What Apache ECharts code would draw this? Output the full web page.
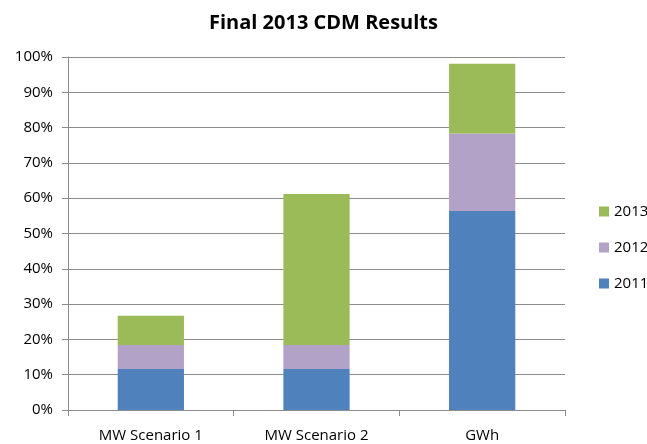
<!DOCTYPE html>
<html>
<head>
<meta charset="utf-8">
<title>Final 2013 CDM Results</title>
<script src="https://cdn.jsdelivr.net/npm/echarts@6/dist/echarts.min.js"></script>
<style>
    html, body { margin: 0; padding: 0; background: #fff; }
    #chart { width: 647px; height: 444px; }
</style>
</head>
<body>
<div id="chart"></div>
<script>
// data (percent)
var categories = ['MW Scenario 1', 'MW Scenario 2', 'GWh'];
var years = ['2011', '2012', '2013'];
var values2011 = [11.6, 11.6, 56.4];
var values2012 = [6.8, 6.8, 21.9];
var values2013 = [8.3, 42.8, 19.8];
var yTicks = [0, 10, 20, 30, 40, 50, 60, 70, 80, 90, 100];

var colors = { '2011': '#4F81BD', '2012': '#B3A2C7', '2013': '#9BBB59' };
var font = '"Open Sans", "Liberation Sans", sans-serif';

var chart = echarts.init(document.getElementById('chart'));
var option = {
    animation : false,
    title : {
        text : 'Final 2013 CDM Results',
        left : 'center',
        top : 8,
        textStyle : {
            fontFamily : font,
            fontSize : 20,
            fontWeight : 'bold',
            color : '#000'
        }
    },
    legend : {
        orient : 'vertical',
        left : 594,
        top : 199,
        itemWidth : 10,
        itemHeight : 10,
        itemGap : 21,
        icon : 'rect',
        data : ['2013', '2012', '2011'],
        textStyle : {
            fontFamily : font,
            fontSize : 15,
            color : '#000'
        }
    },
    grid : {
        left : 68,
        right : 82,
        top : 57,
        bottom : 34
    },
    xAxis : {
        type : 'category',
        data : categories,
        axisLine : { lineStyle : { color : '#8c8c8c' } },
        axisTick : { show : true, length : 6, lineStyle : { color : '#8c8c8c' } },
        axisLabel : {
            fontFamily : font,
            fontSize : 15,
            color : '#000',
            margin : 18
        }
    },
    yAxis : {
        type : 'value',
        min : yTicks[0],
        max : yTicks[yTicks.length - 1],
        interval : 10,
        axisLine : { show : true, lineStyle : { color : '#8c8c8c' } },
        axisTick : { show : true, length : 6, lineStyle : { color : '#8c8c8c' } },
        splitLine : { lineStyle : { color : '#8c8c8c' } },
        axisLabel : {
            fontFamily : font,
            fontSize : 15,
            color : '#000',
            margin : 15,
            formatter : '{value}%'
        }
    },
    series : [
        {
            name : '2011',
            type : 'bar',
            stack : 'total',
            barWidth : '40%',
            itemStyle : { color : colors['2011'] },
            data : values2011
        },
        {
            name : '2012',
            type : 'bar',
            stack : 'total',
            barWidth : '40%',
            itemStyle : { color : colors['2012'] },
            data : values2012
        },
        {
            name : '2013',
            type : 'bar',
            stack : 'total',
            barWidth : '40%',
            itemStyle : { color : colors['2013'] },
            data : values2013
        }
    ]
};
chart.setOption(option);
</script>
</body>
</html>
